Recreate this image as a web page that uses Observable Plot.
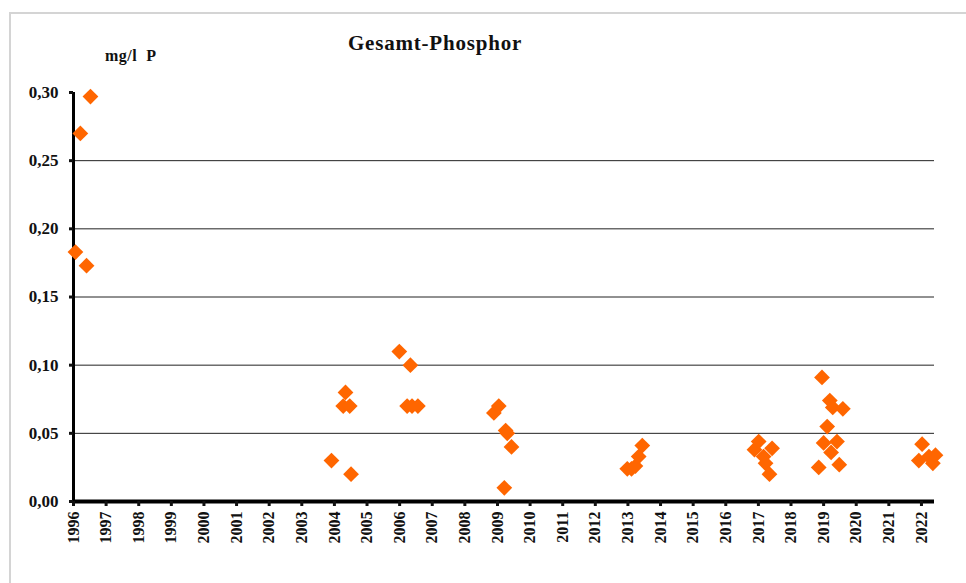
<!DOCTYPE html>
<html>
<head>
<meta charset="utf-8">
<script src="https://cdn.jsdelivr.net/npm/d3@7"></script>
<script src="https://cdn.jsdelivr.net/npm/@observablehq/plot@0.6"></script>
<style>
  html, body { margin: 0; padding: 0; background: #fff; }
  #wrap { position: relative; width: 966px; height: 583px; overflow: hidden; font-family: "Liberation Serif", "Times New Roman", serif; }
  #frame { position: absolute; left: 9px; top: 12px; width: 980px; height: 600px; border-left: 2px solid #d4d4d4; border-top: 2px solid #d4d4d4; }
  #title { position: absolute; left: 0; width: 870px; top: 31px; text-align: center; font-weight: bold; font-size: 21px; letter-spacing: 0.8px; color: #111; }
  #unit { position: absolute; left: 105px; top: 47px; font-weight: bold; font-size: 16px; letter-spacing: 0.5px; color: #111; }
  #chart { position: absolute; left: 0; top: 0; }
</style>
</head>
<body>
<div id="wrap">
  <div id="frame"></div>
  <div id="chart"></div>
  <div id="title">Gesamt-Phosphor</div>
  <div id="unit">mg/l&nbsp; P</div>
</div>
<script>
// Sampling dates (decimal years) and total phosphorus values (mg/l P)
const sampleYears = [
  1996.06, 1996.21, 1996.40, 1996.52,
  2003.91, 2004.27, 2004.34, 2004.47, 2004.51,
  2005.99, 2006.23, 2006.33, 2006.38, 2006.56,
  2008.89, 2009.04, 2009.21, 2009.25, 2009.30, 2009.43,
  2012.98, 2013.11, 2013.23, 2013.33, 2013.44,
  2016.88, 2017.01, 2017.16, 2017.22, 2017.34, 2017.42,
  2018.85, 2018.95, 2019.00, 2019.11, 2019.19, 2019.23, 2019.28, 2019.41, 2019.48, 2019.59,
  2021.92, 2022.02, 2022.23, 2022.35, 2022.43
];
const phosphor = [
  0.183, 0.270, 0.173, 0.297,
  0.030, 0.070, 0.080, 0.070, 0.020,
  0.110, 0.070, 0.100, 0.070, 0.070,
  0.065, 0.070, 0.010, 0.052, 0.050, 0.040,
  0.024, 0.024, 0.026, 0.033, 0.041,
  0.038, 0.044, 0.033, 0.028, 0.020, 0.039,
  0.025, 0.091, 0.043, 0.055, 0.074, 0.036, 0.069, 0.044, 0.027, 0.068,
  0.030, 0.042, 0.033, 0.028, 0.034
];
const yearTicks = d3.range(1996, 2023);
const valueTicks = [0, 0.05, 0.10, 0.15, 0.20, 0.25, 0.30];
const gridValues = [0.05, 0.10, 0.15, 0.20, 0.25];
const xDomain = [1996, 2022.4];
const yDomain = [0, 0.30];

const data = sampleYears.map((t, i) => ({t, v: phosphor[i]}));
const commaFmt = d => d3.format(".2f")(d).replace(".", ",");

const chart = Plot.plot({
  width: 966,
  height: 583,
  marginLeft: 73,
  marginRight: 32,
  marginTop: 92,
  marginBottom: 82,
  style: { fontFamily: "'Liberation Serif', 'Times New Roman', serif", background: "transparent", color: "#111" },
  x: { domain: xDomain, axis: null },
  y: { domain: yDomain, axis: null },
  marks: [
    Plot.gridY(gridValues, { stroke: "#222", strokeOpacity: 1, strokeWidth: 1 }),
    Plot.ruleY([0], { stroke: "#000", strokeWidth: 4 }),
    Plot.ruleX([xDomain[0]], { y1: yDomain[0], y2: yDomain[1], stroke: "#000", strokeWidth: 3 }),
    Plot.axisY({
      ticks: valueTicks, tickFormat: commaFmt, tickSize: 4, tickPadding: 11,
      strokeWidth: 3, fontSize: 17, fontWeight: "bold", label: null,
      style: { letterSpacing: "0.5px" }
    }),
    Plot.axisX({
      ticks: yearTicks, tickFormat: d => String(d), tickSize: 5, tickPadding: 5,
      tickRotate: -90, strokeWidth: 3, fontSize: 16, fontWeight: "bold", label: null,
      style: { letterSpacing: "0.5px" }
    }),
    Plot.dot(data, {
      x: "t", y: "v", symbol: "diamond2", r: 7.1,
      fill: "#FF6600", stroke: "none"
    })
  ]
});
document.getElementById("chart").appendChild(chart);
</script>
</body>
</html>
